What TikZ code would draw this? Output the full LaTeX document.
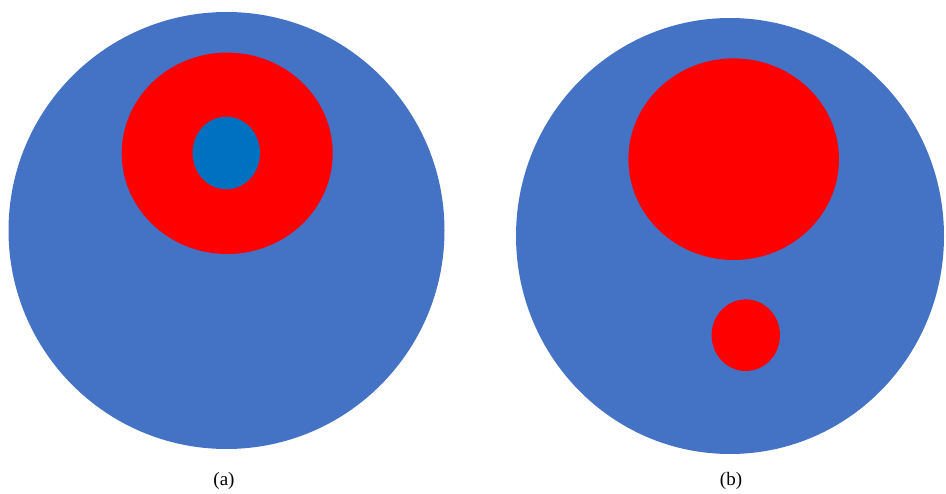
\documentclass[tikz,border=0pt]{standalone}
\usepackage{fontspec}
\setmainfont{Liberation Serif}
\usepackage{tikz}
\definecolor{bigblue}{HTML}{4472C4}
\definecolor{smallblue}{HTML}{0070C0}
\definecolor{redfill}{HTML}{FF0000}
\begin{document}
\begin{tikzpicture}[x=1pt,y=-1pt,
  lbl/.style={font=\fontsize{19}{22}\selectfont, inner sep=0pt}]
\useasboundingbox (0,0) rectangle (946,494);
% (a)
\fill[bigblue] (226.5,230.5) ellipse [x radius=218, y radius=218.5];
\fill[redfill] (227.2,153.3) ellipse [x radius=105.5, y radius=100.7];
\fill[smallblue] (226.3,153) ellipse [x radius=33.7, y radius=36.3];
\node[lbl] (la) at (224,481) {(a)};
% (b)
\fill[bigblue] (730,236) ellipse [x radius=214, y radius=218];
\fill[redfill] (733.7,159.2) ellipse [x radius=105.3, y radius=100.8];
\fill[redfill] (745.8,335.2) ellipse [x radius=34.2, y radius=35.8];
\node[lbl] (lb) at (731,481) {(b)};
\end{tikzpicture}
\end{document}
